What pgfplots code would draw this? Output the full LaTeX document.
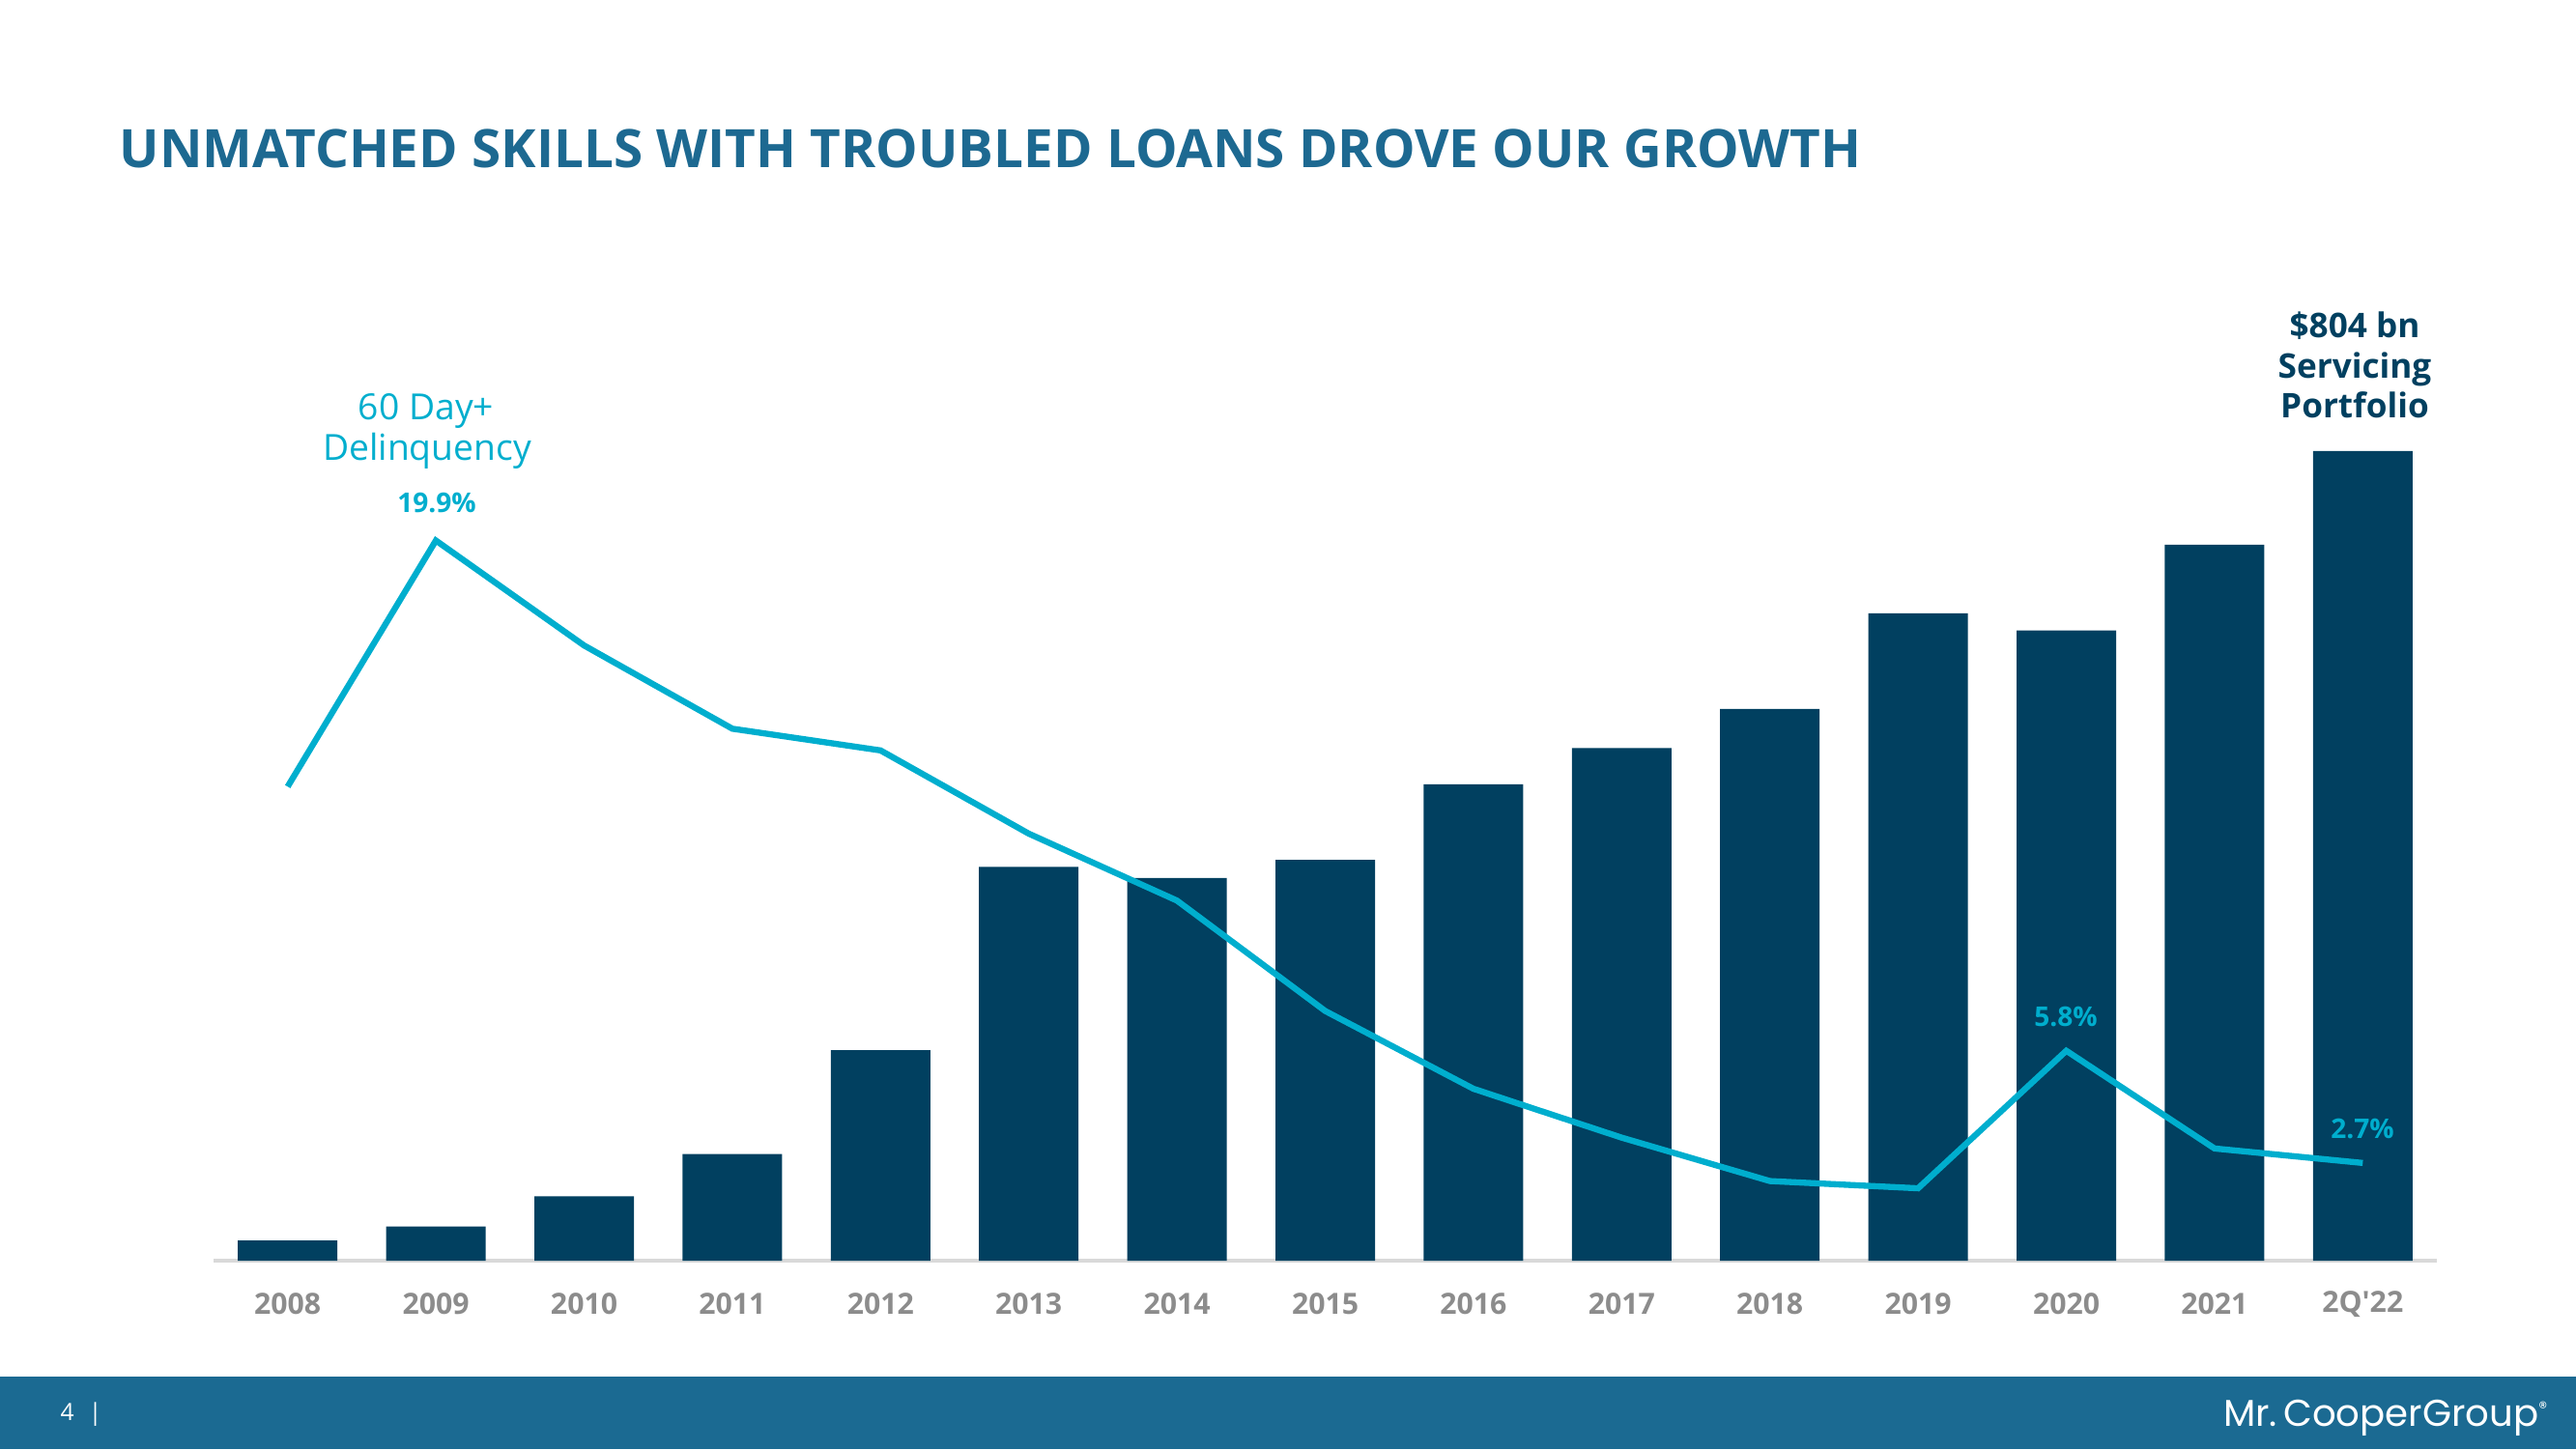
\documentclass[border=0pt]{standalone}
\usepackage{pgfplots}
\pgfplotsset{compat=1.18}
\usepackage{fontspec}
\setmainfont{Open Sans}[Ligatures=TeXOff]
\newfontfamily\logofont{Poppins}

\definecolor{barblue}{RGB}{1,64,96}
\definecolor{linecyan}{RGB}{0,174,206}
\definecolor{titleblue}{RGB}{29,105,145}
\definecolor{footblue}{RGB}{27,106,146}
\definecolor{tickgray}{RGB}{140,140,140}
\definecolor{axisgray}{RGB}{217,217,217}

\begin{document}
\begin{tikzpicture}
\fill[white] (0,0) rectangle (26.66,15);
\useasboundingbox (0,0) rectangle (26.66,15);
\fill[footblue] (0,0) rectangle (26.66,0.75);

% title
\node[anchor=base west, inner sep=0, text=titleblue,
      font=\bfseries\fontsize{15.6}{19}\selectfont] at (1.23,13.26)
  {UNMATCHED SKILLS WITH TROUBLED LOANS DROVE OUR GROWTH};

% servicing portfolio ($ bn)
\begin{axis}[
    at={(2.21cm,1.95cm)}, anchor=south west,
    scale only axis, width=23.01cm, height=8.38cm,
    xmin=-0.5, xmax=14.5, ymin=0, ymax=804,
    enlargelimits=false, clip=false,
    axis x line=bottom, axis y line=none,
    x axis line style={-, draw=axisgray, line width=1pt},
    xtick={0,...,14},
    xticklabels={2008,2009,2010,2011,2012,2013,2014,2015,2016,2017,2018,2019,2020,2021,2Q'22},
    major tick length=0pt,
    xticklabel style={font=\bfseries\fontsize{8.6}{10}\selectfont, text=tickgray,
                      anchor=center, yshift=-0.45cm},
]
\addplot[ybar, bar width=1.03cm, fill=barblue, draw=none] coordinates {
  (0,20) (1,34) (2,64) (3,106) (4,209) (5,391) (6,380) (7,398)
  (8,473) (9,509) (10,548) (11,643) (12,626) (13,711) (14,804)
};
\end{axis}

% 60 day+ delinquency (%)
\begin{axis}[
    at={(2.21cm,1.95cm)}, anchor=south west,
    scale only axis, width=23.01cm, height=8.38cm,
    xmin=-0.5, xmax=14.5, ymin=0, ymax=22.37,
    enlargelimits=false, clip=false, hide axis,
]
\addplot[linecyan, line width=1.8pt, mark=none] coordinates {
  (0,13.1) (1,19.9) (2,17.0) (3,14.7) (4,14.1) (5,11.8) (6,9.95) (7,6.9)
  (8,4.75) (9,3.4) (10,2.2) (11,2.0) (12,5.8) (13,3.1) (14,2.7)
};
\end{axis}

% annotations
\begin{scope}[every node/.style={inner sep=0, anchor=base}]
\node[text=linecyan, font=\fontsize{10.6}{12}\selectfont] at (4.41,10.65) {60 Day+};
\node[text=linecyan, font=\fontsize{10.6}{12}\selectfont] at (4.42,10.23) {Delinquency};
\node[text=linecyan, font=\bfseries\fontsize{8}{10}\selectfont] at (4.52,9.69) {19.9\%};
\node[text=linecyan, font=\bfseries\fontsize{8}{10}\selectfont] at (21.38,4.38) {5.8\%};
\node[text=linecyan, font=\bfseries\fontsize{8}{10}\selectfont] at (24.45,3.22) {2.7\%};
\node[text=barblue, font=\bfseries\fontsize{10}{12}\selectfont] at (24.37,11.50) {\$804 bn};
\node[text=barblue, font=\bfseries\fontsize{10}{12}\selectfont] at (24.37,11.08) {Servicing};
\node[text=barblue, font=\bfseries\fontsize{10}{12}\selectfont] at (24.37,10.67) {Portfolio};
\end{scope}

% footer
\node[anchor=base west, inner sep=0, text=white, font=\fontsize{7}{8}\selectfont]
  at (0.62,0.30) {4\hspace{0.15cm}|};
\node[anchor=base east, inner sep=0, text=white, font=\logofont\fontsize{11}{12}\selectfont]
  at (26.37,0.24) {Mr.\,CooperGroup\raisebox{0.6ex}{\tiny\textregistered}};
\end{tikzpicture}
\end{document}
